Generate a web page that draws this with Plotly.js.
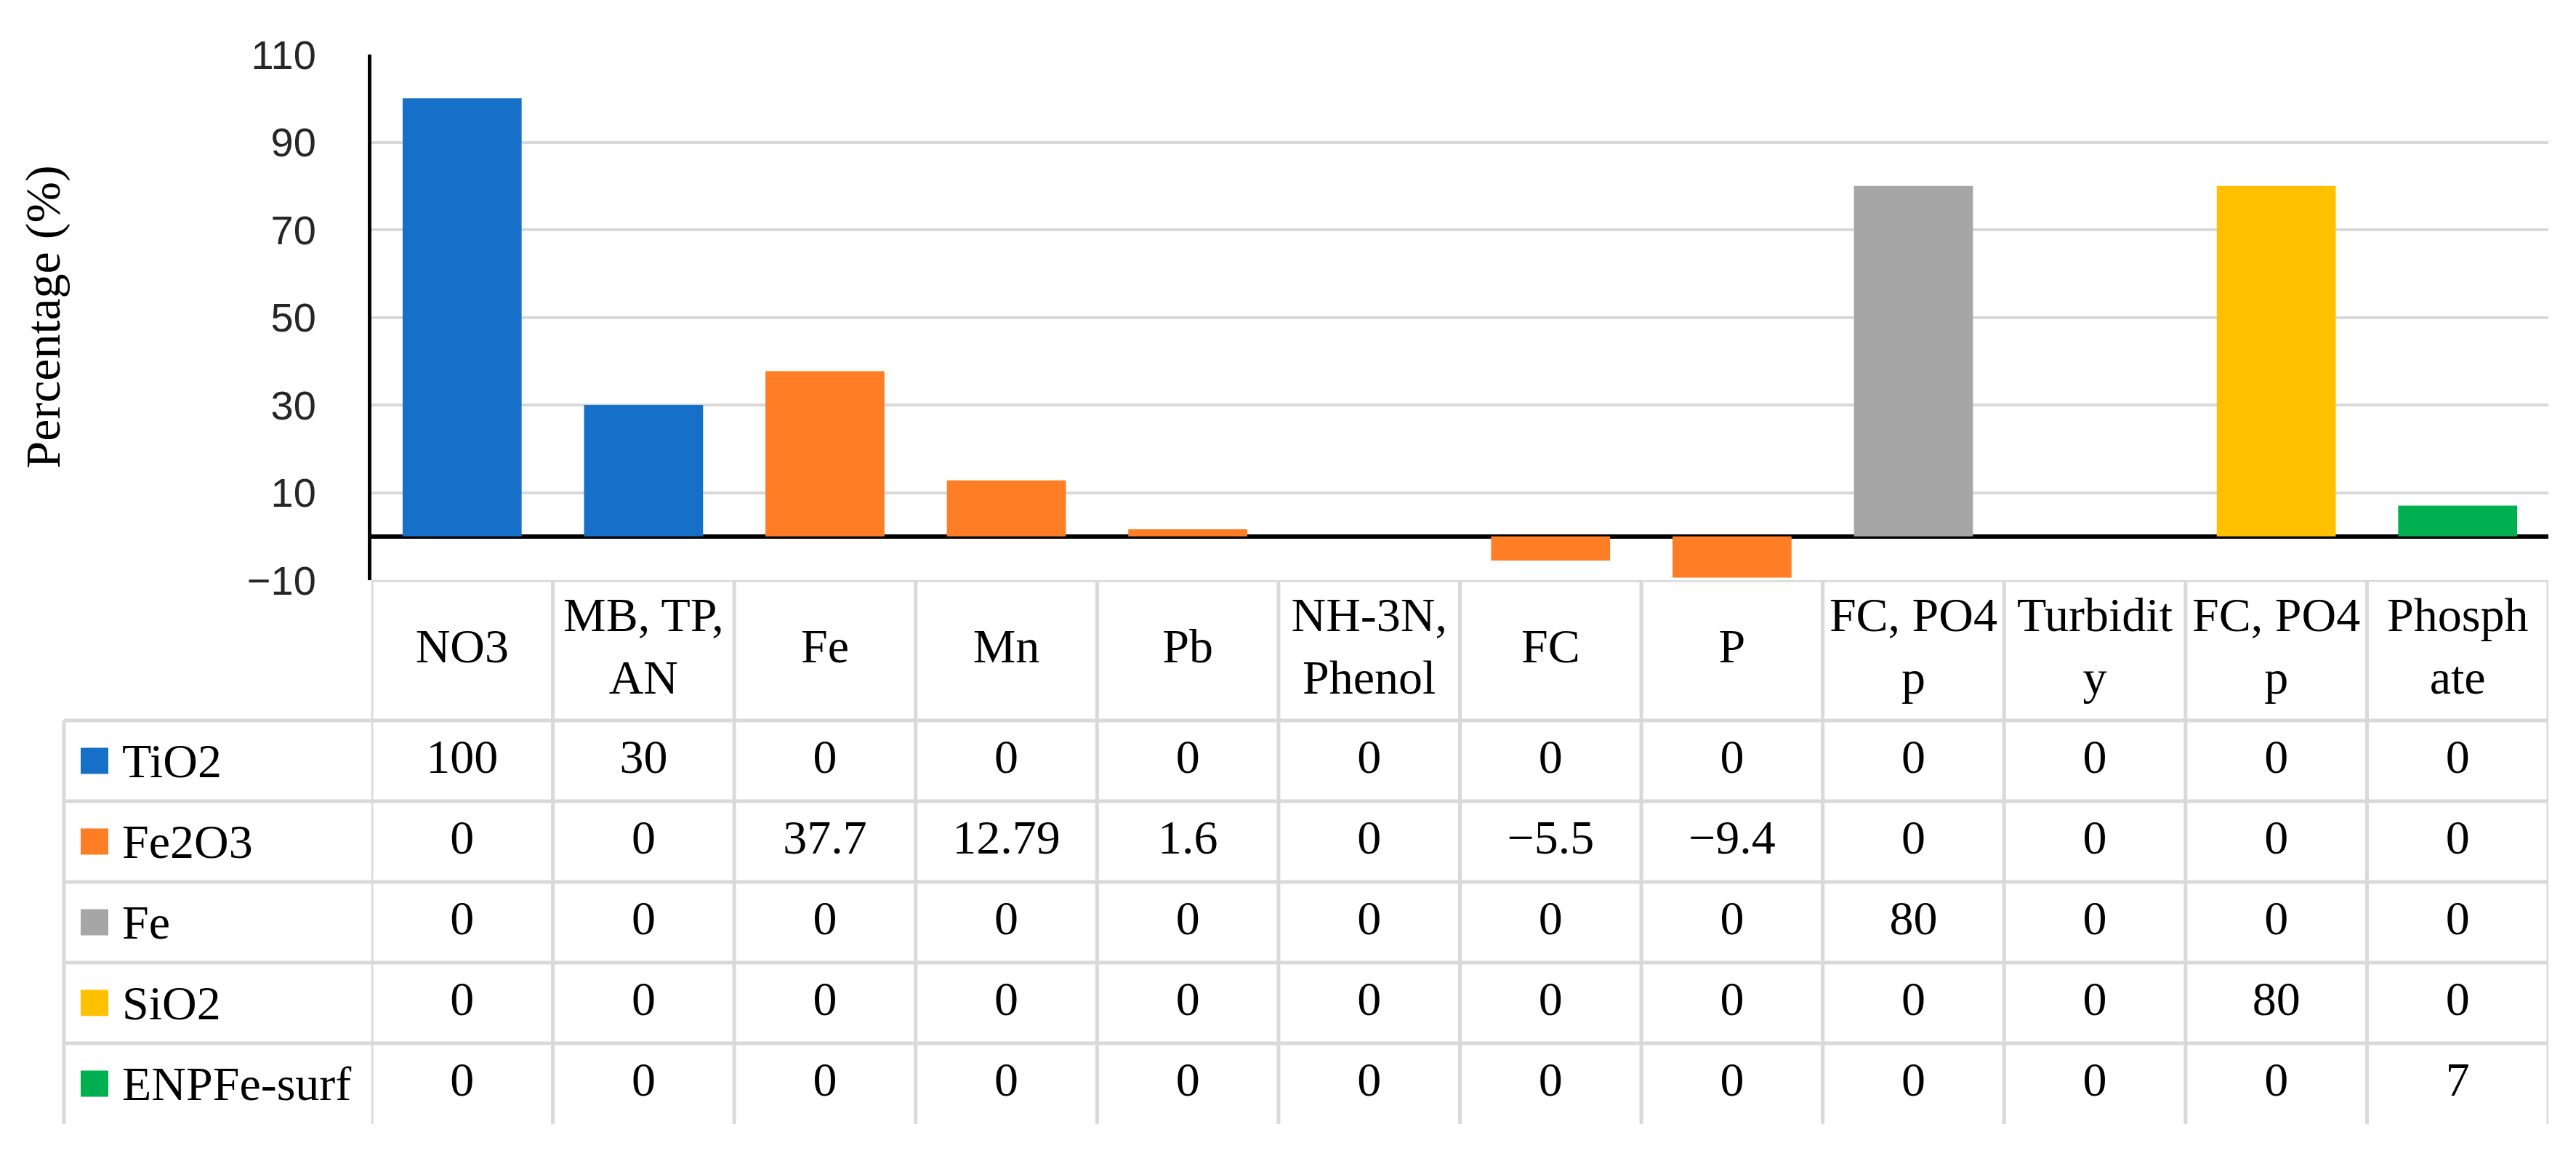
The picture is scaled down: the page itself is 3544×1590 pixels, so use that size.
<!DOCTYPE html>
<html><head><meta charset="utf-8">
<script src="https://cdn.plot.ly/plotly-3.0.1.min.js"></script>
<style>html,body{margin:0;padding:0;background:#fff;}#chart{width:3544px;height:1590px;}</style>
</head><body><div id="chart"></div>
<script>
// ---- data ----
const categories = ["NO3","MB, TP,<br>AN","Fe","Mn","Pb","NH-3N,<br>Phenol","FC","P","FC, PO4<br>p","Turbidit<br>y","FC, PO4<br>p","Phosph<br>ate"];
const seriesNames = ["TiO2","Fe2O3","Fe","SiO2","ENPFe-surf"];
const seriesColors = ["#1670C8","#FF7D25","#A6A6A6","#FFC000","#00B050"];
const TiO2      = [100,30,0,0,0,0,0,0,0,0,0,0];
const Fe2O3     = [0,0,37.7,12.79,1.6,0,-5.5,-9.4,0,0,0,0];
const Fe        = [0,0,0,0,0,0,0,0,80,0,0,0];
const SiO2      = [0,0,0,0,0,0,0,0,0,0,80,0];
const ENPFeSurf = [0,0,0,0,0,0,0,0,0,0,0,7];
const yTicks = [-10,10,30,50,70,90,110];
const yTitle = "Percentage (%)";

// ---- geometry ----
const W = 3544, H = 1590;
const L = 511, R = 3506, T = 75, B = 1546, barBottom = 798;
const plotH = B - T, plotW = R - L;
const splitFrac = (B - barBottom) / plotH;
const rowPx = 111, headerPx = 193;
const headerU = headerPx / rowPx;
const totalU = headerU + seriesNames.length;
const px2paperX = p => (p - L) / plotW;

const allSeries = [TiO2, Fe2O3, Fe, SiO2, ENPFeSurf];
const xIdx = categories.map((c, i) => i);
const serifFont = "Liberation Serif, Times New Roman, serif";
const gridCol = "#d9d9d9";

const traces = [];
allSeries.forEach((vals, s) => {
  traces.push({
    type: "bar", x: xIdx, y: vals, name: seriesNames[s],
    marker: {color: seriesColors[s], line: {width: 0}},
    xaxis: "x", yaxis: "y", hoverinfo: "none", showlegend: false
  });
});
// header row text
traces.push({
  type: "scatter", mode: "text", x: xIdx, y: xIdx.map(() => headerU / 2),
  text: categories, textposition: "middle center",
  textfont: {family: serifFont, size: 66, color: "#000"},
  xaxis: "x", yaxis: "y2", cliponaxis: false, hoverinfo: "none", showlegend: false
});
// value cells
const fmt = v => (v < 0 ? "\u2212" + String(-v) : String(v));
allSeries.forEach((vals, s) => {
  traces.push({
    type: "scatter", mode: "text", x: xIdx, y: xIdx.map(() => headerU + s + 0.5),
    text: vals.map(fmt), textposition: "middle center",
    textfont: {family: serifFont, size: 66, color: "#000"},
    xaxis: "x", yaxis: "y2", cliponaxis: false, hoverinfo: "none", showlegend: false
  });
});

const shapes = [];
const lineStyle = {color: gridCol, width: 5};
// table top
shapes.push({type: "line", xref: "paper", yref: "y2", x0: 0, x1: 1, y0: 0, y1: 0, line: lineStyle});
// row lines extending into legend column
for (let r = 0; r < seriesNames.length; r++) {
  const yy = headerU + r;
  shapes.push({type: "line", xref: "paper", yref: "y2", x0: px2paperX(88), x1: 1, y0: yy, y1: yy, line: lineStyle});
}
// vertical category separators
for (let k = 0; k <= categories.length; k++) {
  shapes.push({type: "line", xref: "x", yref: "y2", x0: k - 0.5, x1: k - 0.5, y0: 0, y1: totalU, line: lineStyle});
}
// legend column left border
shapes.push({type: "line", xref: "paper", yref: "y2", x0: px2paperX(88), x1: px2paperX(88), y0: headerU, y1: totalU, line: lineStyle});
// legend keys
const annotations = [];
seriesNames.forEach((nm, s) => {
  const yc = headerU + s + 0.5;
  const half = 18 / rowPx;
  shapes.push({type: "rect", xref: "paper", yref: "y2", x0: px2paperX(111), x1: px2paperX(149),
    y0: yc - half, y1: yc + half, fillcolor: seriesColors[s], line: {width: 0}});
  annotations.push({xref: "paper", yref: "y2", x: px2paperX(166), y: yc, xanchor: "left", yanchor: "middle",
    text: nm, showarrow: false, font: {family: serifFont, size: 66, color: "#000"}});
});
annotations.push({xref: "paper", yref: "paper", x: px2paperX(59), y: (splitFrac + 1) / 2,
  xanchor: "center", yanchor: "middle", textangle: -90, text: yTitle, showarrow: false,
  font: {family: serifFont, size: 68, color: "#000"}});

const layout = {
  width: W, height: H,
  margin: {l: L, r: W - R, t: T, b: H - B, pad: 0},
  paper_bgcolor: "#fff", plot_bgcolor: "rgba(0,0,0,0)",
  barmode: "relative", bargap: 0.344,
  showlegend: false,
  xaxis: {range: [-0.5, categories.length - 0.5], showgrid: false, zeroline: false,
    showline: false, showticklabels: false, ticks: "", anchor: "y2", fixedrange: true},
  yaxis: {domain: [splitFrac, 1], range: [-10, 110], tickvals: yTicks,
    ticktext: yTicks.map(fmt),
    showgrid: true, gridcolor: gridCol, gridwidth: 4,
    zeroline: true, zerolinecolor: "#000", zerolinewidth: 6,
    showline: true, linecolor: "#000", linewidth: 5,
    ticks: "", ticklabelstandoff: 60,
    tickfont: {family: "Liberation Sans, Arial, sans-serif", size: 56, color: "#262626"},
    anchor: "x", fixedrange: true},
  yaxis2: {domain: [0, splitFrac], range: [totalU, 0], visible: false,
    showgrid: false, zeroline: false, anchor: "x", fixedrange: true},
  shapes: shapes, annotations: annotations
};

Plotly.newPlot("chart", traces, layout, {staticPlot: true, displayModeBar: false});
</script>
</body></html>
